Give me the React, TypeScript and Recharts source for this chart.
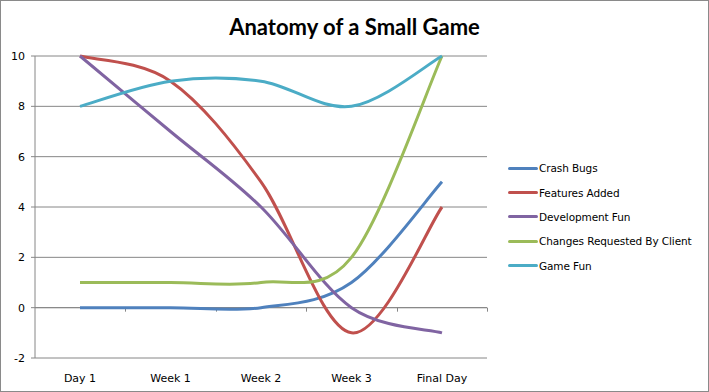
import React from "react";
import {
  CartesianGrid,
  Line,
  LineChart,
  ReferenceLine,
  XAxis,
  YAxis,
} from "recharts";

const categories = ["Day 1", "Week 1", "Week 2", "Week 3", "Final Day"];
const crashBugs = [0, 0, 0, 1, 5];
const featuresAdded = [10, 9, 5, -1, 4];
const developmentFun = [10, 7, 4, 0, -1];
const changesRequested = [1, 1, 1, 2, 10];
const gameFun = [8, 9, 9, 8, 10];
const yTicks = [-2, 0, 2, 4, 6, 8, 10];

const series = [
  { key: "crash", name: "Crash Bugs", values: crashBugs, color: "#4F81BD" },
  { key: "features", name: "Features Added", values: featuresAdded, color: "#C0504D" },
  { key: "devfun", name: "Development Fun", values: developmentFun, color: "#8064A2" },
  { key: "changes", name: "Changes Requested By Client", values: changesRequested, color: "#9BBB59" },
  { key: "gamefun", name: "Game Fun", values: gameFun, color: "#4BACC6" },
];

const data = categories.map((c, i) => {
  const row: Record<string, string | number> = { name: c };
  series.forEach((s) => (row[s.key] = s.values[i]));
  return row;
});

// Excel-style smoothing (Catmull-Rom as cubic bezier)
function excelCurve(context: any) {
  let xs: number[] = [];
  let ys: number[] = [];
  return {
    areaStart() {},
    areaEnd() {},
    lineStart() {
      xs = [];
      ys = [];
    },
    point(x: number, y: number) {
      xs.push(+x);
      ys.push(+y);
    },
    lineEnd() {
      const n = xs.length;
      if (!n) return;
      context.moveTo(xs[0], ys[0]);
      for (let i = 0; i < n - 1; i++) {
        const p0 = Math.max(i - 1, 0);
        const p3 = Math.min(i + 2, n - 1);
        const c1x = xs[i] + (xs[i + 1] - xs[p0]) / 6;
        const c1y = ys[i] + (ys[i + 1] - ys[p0]) / 6;
        const c2x = xs[i + 1] - (xs[p3] - xs[i]) / 6;
        const c2y = ys[i + 1] - (ys[p3] - ys[i]) / 6;
        context.bezierCurveTo(c1x, c1y, c2x, c2y, xs[i + 1], ys[i + 1]);
      }
    },
  };
}

const FONT = "'DejaVu Sans', sans-serif";

// small category-boundary ticks hanging under the zero line
function ZeroTicks({ viewBox }: { viewBox?: any }) {
  if (!viewBox) return null;
  const { x, y, width } = viewBox;
  return (
    <g>
      {categories.map((_, i) => {
        const tx = Math.round(x + (width * (i + 1)) / categories.length) + 0.5;
        return (
          <line key={i} x1={tx} x2={tx} y1={y} y2={y + 4} stroke="#868686" />
        );
      })}
    </g>
  );
}

function LegendBox() {
  return (
    <div
      style={{
        position: "absolute",
        left: 507,
        top: 155,
        fontFamily: FONT,
        fontSize: 10.5,
        letterSpacing: -0.1,
        color: "#000",
      }}
    >
      {series.map((s) => (
        <div
          key={s.key}
          style={{ display: "flex", alignItems: "center", height: 24.4 }}
        >
          <span
            style={{
              display: "inline-block",
              width: 30,
              height: 3,
              background: s.color,
              borderRadius: 2,
            }}
          />
          <span style={{ marginLeft: 1 }}>{s.name}</span>
        </div>
      ))}
    </div>
  );
}

export default function App() {
  return (
    <div
      style={{
        position: "relative",
        width: 709,
        height: 392,
        boxSizing: "border-box",
        border: "1px solid #8a8a8a",
        background: "#fff",
      }}
    >
      <style>{`body{margin:0}`}</style>
      <div
        style={{
          position: "absolute",
          top: 12,
          left: 0,
          width: 707,
          textAlign: "center",
          fontFamily: "Lato, sans-serif",
          fontWeight: 700,
          fontSize: 22,
          color: "#000",
        }}
      >
        Anatomy of a Small Game
      </div>
      <LineChart
        width={707}
        height={390}
        data={data}
        margin={{ top: 55, right: 221, bottom: 0, left: 0 }}
      >
        <CartesianGrid vertical={false} stroke="#868686" />
        <XAxis
          dataKey="name"
          axisLine={false}
          tickLine={false}
          height={33}
          padding={{ left: 45, right: 45 }}
          tick={{ fill: "#000", fontSize: 11, fontFamily: FONT }}
          tickMargin={10}
        />
        <YAxis
          domain={[-2, 10]}
          ticks={yTicks}
          width={34}
          stroke="#868686"
          tickSize={4}
          tickMargin={6}
          tick={{ fill: "#000", fontSize: 11, fontFamily: FONT }}
        />
        <ReferenceLine y={0} stroke="#868686" label={<ZeroTicks />} />
        {series.map((s) => (
          <Line
            key={s.key}
            dataKey={s.key}
            name={s.name}
            stroke={s.color}
            strokeWidth={3}
            dot={false}
            type={excelCurve as any}
            isAnimationActive={false}
          />
        ))}
      </LineChart>
      <LegendBox />
    </div>
  );
}
